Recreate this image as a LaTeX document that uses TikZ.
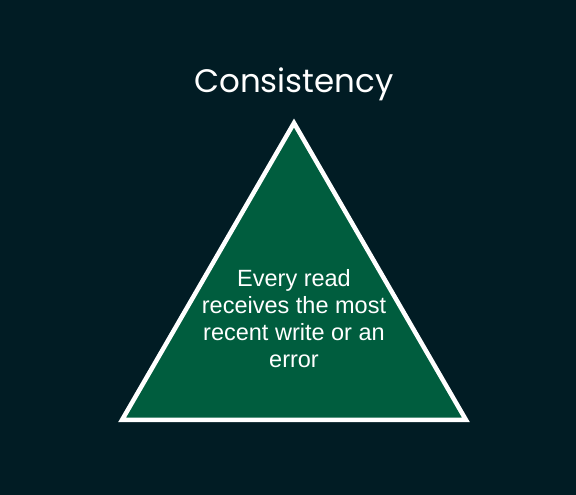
\documentclass[tikz,border=0pt]{standalone}
\usepackage{fontspec}
\setmainfont{Liberation Sans}
\newfontfamily\titlefont{Poppins}
\definecolor{capbg}{RGB}{1,28,36}
\definecolor{capgreen}{RGB}{0,93,62}
\tikzset{
  capside/.style={draw=white, line width=4.5pt, fill=capgreen, line join=miter},
  captitle/.style={text=white, font=\titlefont\fontsize{32.5}{38}\selectfont},
  capnote/.style={text=white, align=center, font=\fontsize{23.5}{27}\selectfont},
}
\begin{document}
\begin{tikzpicture}[x=1pt, y=1pt]
    \fill[capbg] (0,0) rectangle (576,495);
    \useasboundingbox (0,0) rectangle (576,495);
    \coordinate (top) at (294,372);
    \coordinate (left) at (122,75);
    \coordinate (right) at (466,75);
    \draw[capside] (left) -- (right) -- (top) -- cycle;
    \node[captitle, anchor=base] (title) at (294,402) {Consistency};
    \node[capnote] (claim) at (294,176.7) {Every read\\receives the most\\recent write or an\\error};
\end{tikzpicture}
\end{document}
